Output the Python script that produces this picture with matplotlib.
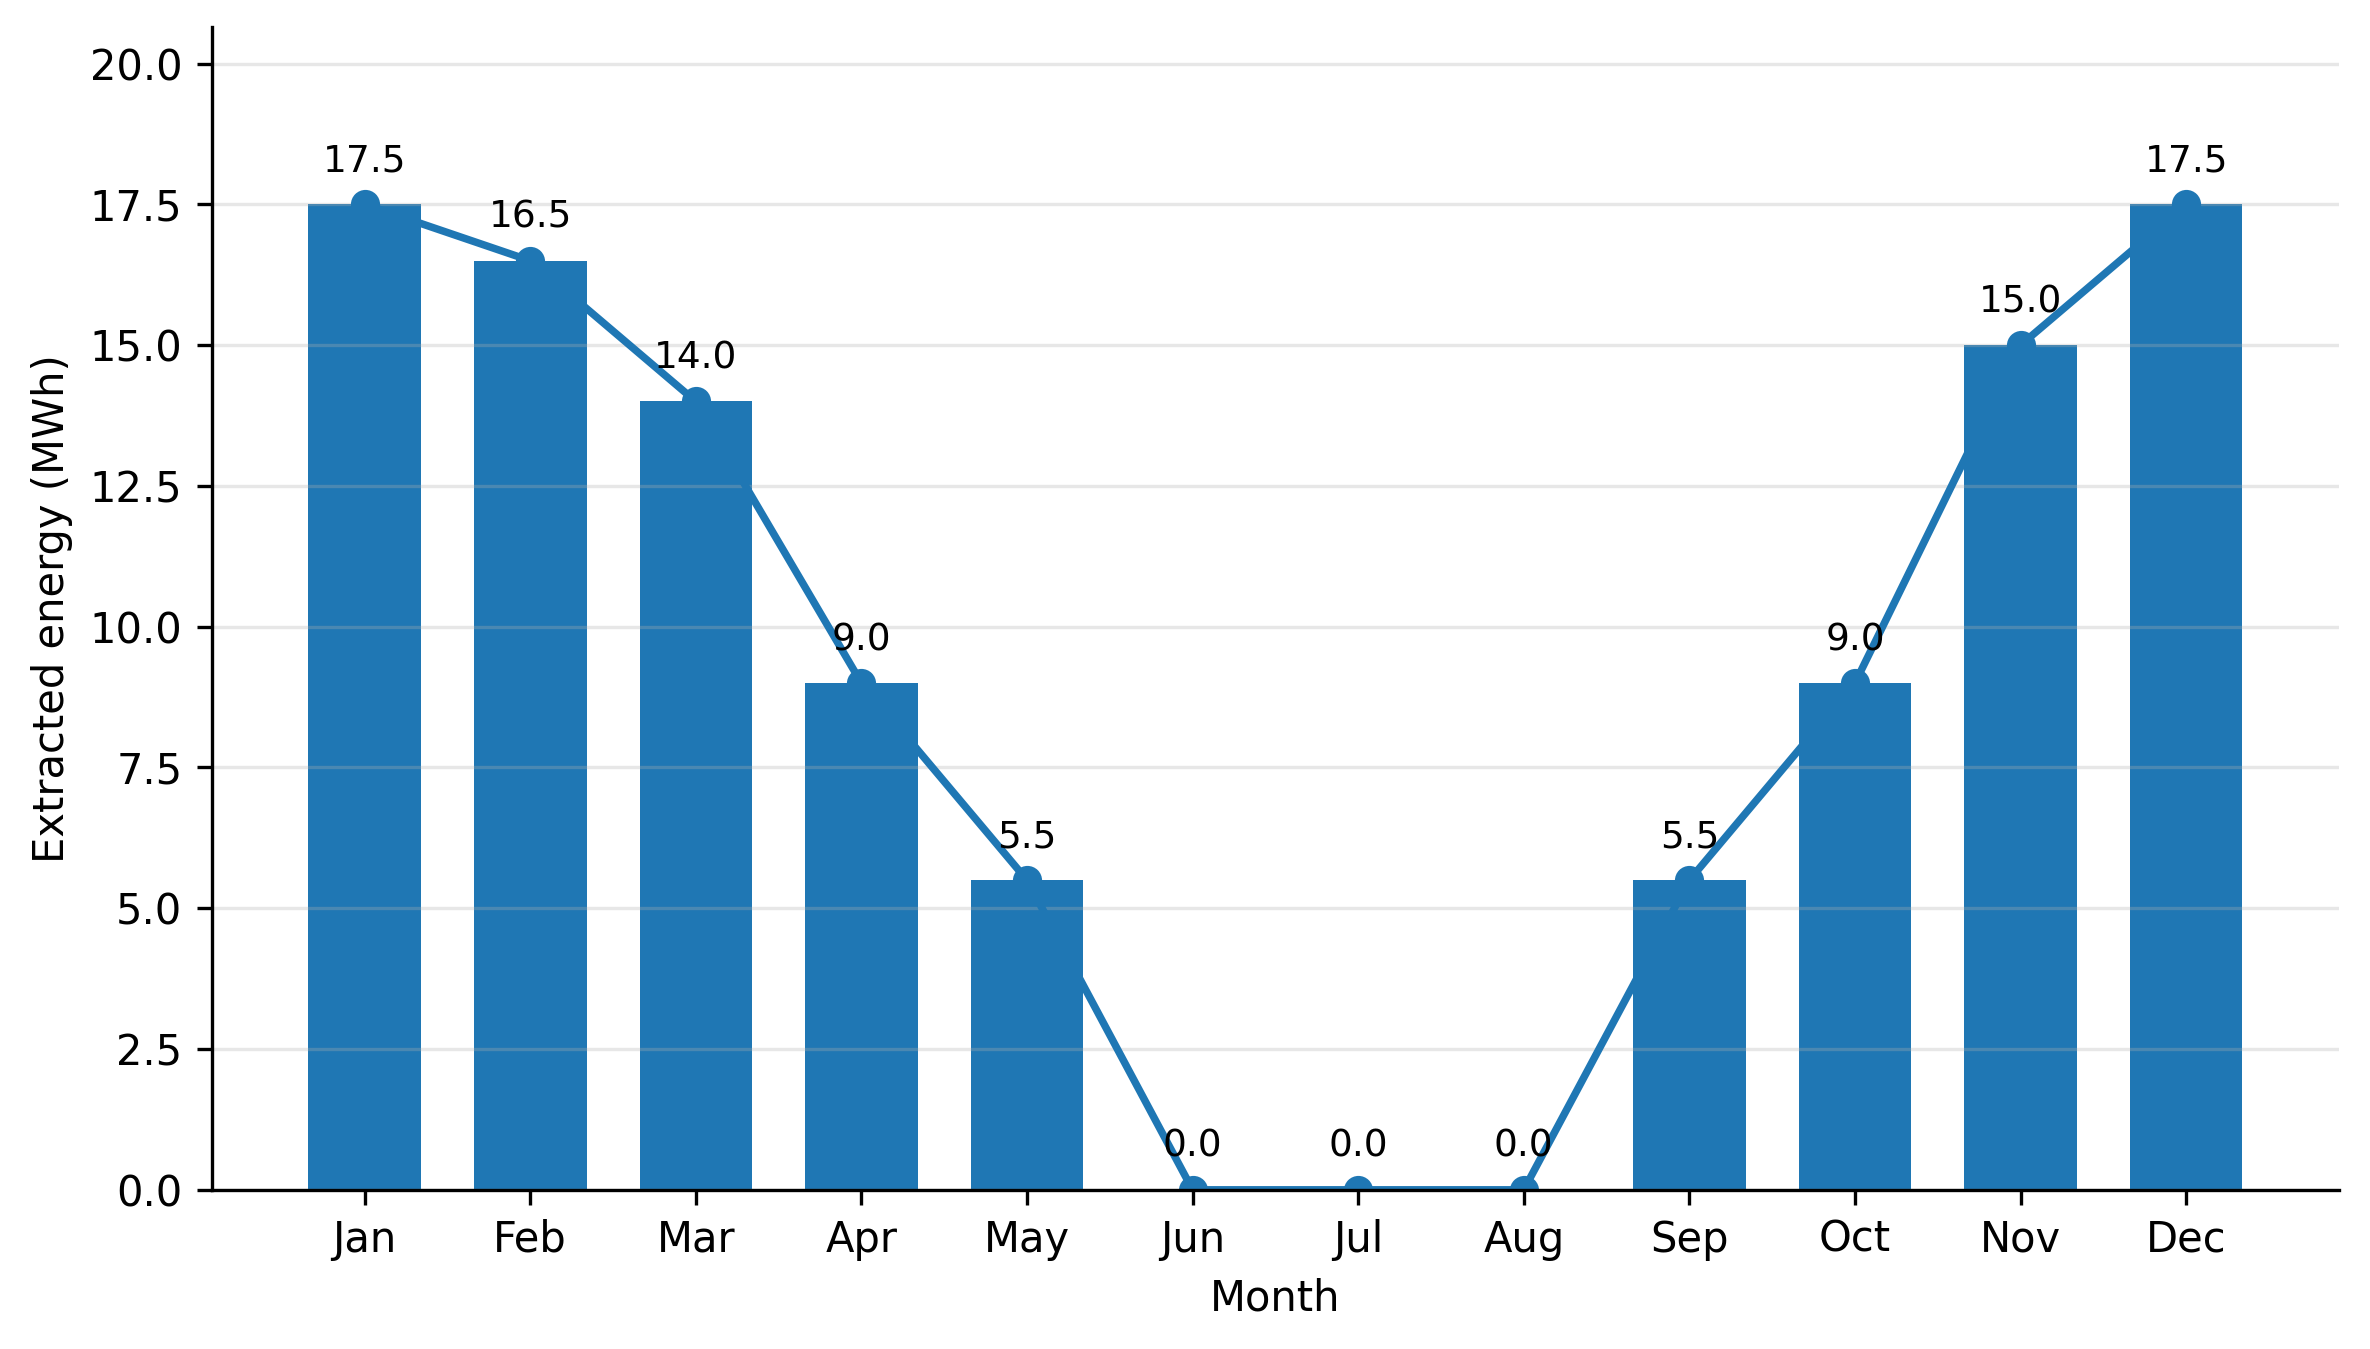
import matplotlib
matplotlib.use("Agg")
import matplotlib.pyplot as plt

months = ["Jan", "Feb", "Mar", "Apr", "May", "Jun",
          "Jul", "Aug", "Sep", "Oct", "Nov", "Dec"]
energy_mwh = [17.5, 16.5, 14.0, 9.0, 5.5, 0.0, 0.0, 0.0, 5.5, 9.0, 15.0, 17.5]

color = "#1f77b4"

fig = plt.figure(figsize=(2370 / 300, 1349 / 300), dpi=300)
ax = fig.add_axes([0.0893, 0.118, 0.8977, 0.862])

x = list(range(len(months)))
ax.bar(x, energy_mwh, width=0.68, color=color)
ax.plot(x, energy_mwh, marker="o", color=color, linewidth=1.8, markersize=6)

for xi, v in zip(x, energy_mwh):
    ax.annotate(f"{v:.1f}", (xi, v), xytext=(0, 6), textcoords="offset points",
                ha="center", va="bottom", fontsize=9)

ax.set_xticks(x)
ax.set_xticklabels(months)
ax.set_ylim(0, max(energy_mwh) * 1.18)
ax.set_xlabel("Month")
ax.set_ylabel("Extracted energy (MWh)")
ax.grid(axis="y", alpha=0.3)
ax.spines["top"].set_visible(False)
ax.spines["right"].set_visible(False)

fig.savefig("out.png", dpi=300)
